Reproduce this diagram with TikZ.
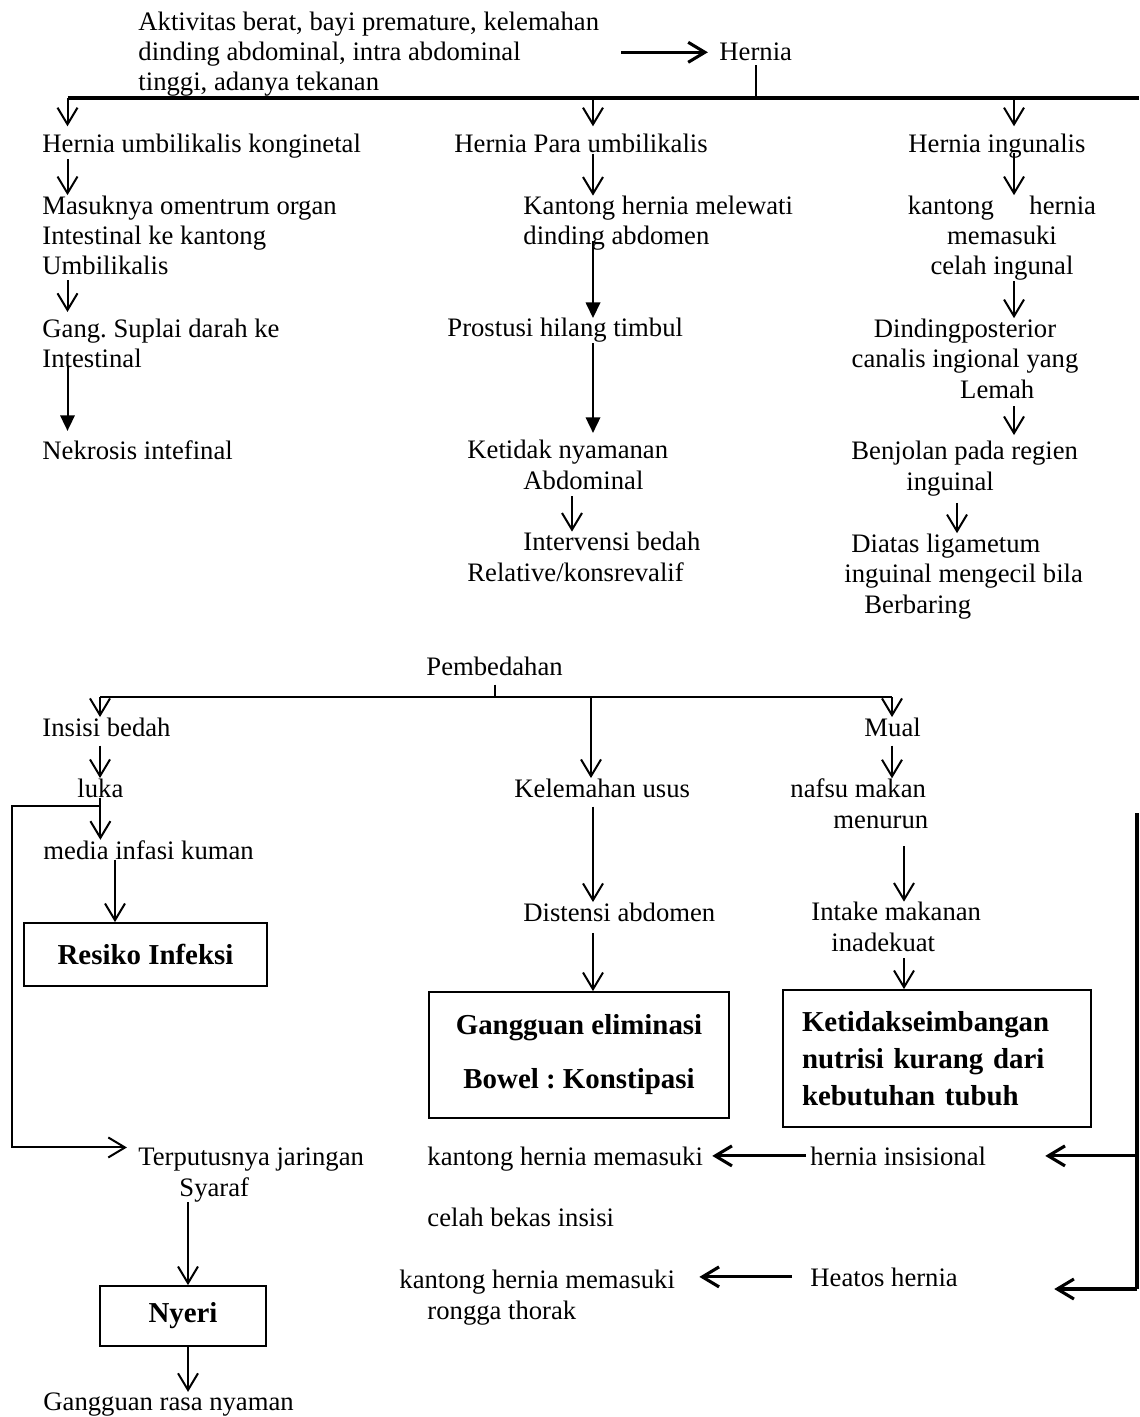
\documentclass[tikz,border=0pt]{standalone}
\usepackage{fontspec}
\setmainfont{Liberation Serif}
\usepackage{tikz}
\usetikzlibrary{arrows.meta,positioning,calc}
\frenchspacing
\tikzstyle{txt} = [inner sep=0pt, anchor=base west, align=left, font=\fontsize{12}{13.7}\selectfont]
\tikzstyle{txtc} = [txt, anchor=base, align=center]
\tikzstyle{diag} = [draw, line width=0.8pt, inner sep=0pt, align=center, font=\fontsize{13}{15}\selectfont\bfseries]
\tikzstyle{conn} = [line width=0.9pt]
\tikzstyle{arrow} = [conn, -{Straight Barb[length=7.5pt,width=9pt]}]
\tikzstyle{arrowfill} = [conn, -{Triangle[length=7pt,width=6.5pt]}]

\begin{document}
\begin{tikzpicture}[x=0.45pt, y=-0.45pt]
\fill[white] (0,0) rectangle (1139,1417);
\useasboundingbox (0,0) rectangle (1139,1417);

\coordinate (barL) at (67.5,98);
\coordinate (barR) at (1139,98);
\coordinate (barbL) at (100,697);
\coordinate (barbR) at (892,697);
\coordinate (rtop) at (1137,813);
\coordinate (rbot) at (1137,1289);
\coordinate (xb) at (593,0);
\coordinate (xc) at (1014,0);
\coordinate (xd) at (572,0);
\coordinate (xe) at (957,0);
\coordinate (xg) at (591,0);
\coordinate (xi) at (115,0);
\coordinate (xj) at (904,0);
\coordinate (xk) at (188,0);

\node[txt] (aktiv) at (138,91) {Aktivitas berat, bayi premature, kelemahan\\dinding abdominal, intra abdominal\\tinggi, adanya tekanan};
\node[txt] (hernia) at (719,61) {Hernia};
\node[txt] (huk) at (42,153) {Hernia umbilikalis konginetal};
\node[txt] (hpu) at (454,153) {Hernia Para umbilikalis};
\node[txt] (hing) at (908,153) {Hernia ingunalis};
\node[txt] (masuk) at (42,275) {Masuknya omentrum organ\\Intestinal ke kantong\\Umbilikalis};
\node[txt] (kantong) at (523,245) {Kantong hernia melewati\\dinding abdomen};
\node[txtc] (kantongi) at (1002,275) {kantong\hspace{16pt}hernia\\memasuki\\celah ingunal};
\node[txt] (gang) at (42,368) {Gang. Suplai darah ke\\Intestinal};
\node[txt] (prostusi) at (447,337) {Prostusi hilang timbul};
\node[txtc] (dinding) at (965,398) {Dindingposterior\\canalis ingional yang\\\hspace*{29pt}Lemah};
\node[txt] (nekrosis) at (42,459) {Nekrosis intefinal};
\node[txt] (ketnyaman) at (467,489) {Ketidak nyamanan\\\hspace*{25.2pt}Abdominal};
\node[txt] (benjolan) at (851,490) {Benjolan pada regien\\\hspace*{24.75pt}inguinal};
\node[txt] (intervensi) at (467,581) {\hspace*{25.2pt}Intervensi bedah\\Relative/konsrevalif};
\node[txt] (diatas) at (844,613) {\hspace*{3.15pt}Diatas ligametum\\inguinal mengecil bila\\\hspace*{9pt}Berbaring};
\node[txt] (pembedahan) at (426,675) {Pembedahan};
\node[txt] (insisi) at (42,736) {Insisi bedah};
\node[txt] (mual) at (864,736) {Mual};
\node[txt] (luka) at (77,797) {luka};
\node[txt] (kelemahan) at (514,797) {Kelemahan usus};
\node[txt] (nafsu) at (790,828) {nafsu makan\\\hspace*{19.35pt}menurun};
\node[txt] (media) at (43,859) {media infasi kuman};
\node[txt] (distensi) at (523,921) {Distensi abdomen};
\node[txt] (intake) at (811,951) {Intake makanan\\\hspace*{9pt}inadekuat};
\node[diag, minimum width=109.35pt, minimum height=28.35pt] (resiko) at (145.5,954.5) {Resiko Infeksi};
\node[diag, minimum width=135pt, minimum height=56.7pt, font=\fontsize{13}{24.3}\selectfont\bfseries] (elim) at (579,1055) {Gangguan eliminasi\\Bowel : Konstipasi};
\node[diag, minimum width=138.6pt, minimum height=61.65pt, text width=121.5pt, align=left, font=\fontsize{13}{16.65}\selectfont\bfseries] (nutrisi) at (937,1058.5) {Ketidakseimbangan\\nutrisi kurang dari\\kebutuhan tubuh};
\node[txt] (terput) at (138,1196) {Terputusnya jaringan\\\hspace*{18.45pt}Syaraf};
\node[txt] (kmasuk) at (427,1165) {kantong hernia memasuki};
\node[txt] (hinsisi) at (810,1165) {hernia insisional};
\node[txt] (celah) at (427,1226) {celah bekas insisi};
\node[txt] (kthorak) at (399,1319) {kantong hernia memasuki\\\hspace*{12.6pt}rongga thorak};
\node[txt] (heatos) at (810,1286) {Heatos hernia};
\node[diag, minimum width=74.7pt, minimum height=27pt] (nyeri) at (183,1316) {Nyeri};
\node[txt] (rasa) at (43,1410) {Gangguan rasa nyaman};

\draw[arrow, line width=1.4pt, shorten >=5pt] (aktiv.east |- hernia.west) ++(22,0) -- (hernia.west);
\draw[conn, shorten <=1.5pt] (hernia.south) -- (hernia.south |- barL);
\draw[conn, line width=1.4pt] (barL) -- (barR);
\draw[arrow, shorten >=3.5pt] (barL) -- (barL |- huk.north);
\draw[arrow, shorten >=3.5pt] (barL -| xb) -- (xb |- hpu.north);
\draw[arrow, shorten >=3.5pt] (barL -| xc) -- (xc |- hing.north);
\draw[arrow] (huk.south -| barL) -- (masuk.north -| barL);
\draw[arrow] (hpu.south -| xb) -- (kantong.north -| xb);
\draw[arrow, shorten <=-3pt] (hing.south -| xc) -- (kantongi.north -| xc);
\draw[arrow, shorten <=2pt, shorten >=3pt] (masuk.south -| barL) -- (gang.north -| barL);
\draw[arrowfill, shorten <=-4.5pt] (kantong.south -| xb) -- (prostusi.north -| xb);
\draw[arrow] (kantongi.south -| xc) -- (dinding.north -| xc);
\draw[arrowfill, shorten <=-1pt, shorten >=4pt] (gang.south -| barL) -- (nekrosis.north -| barL);
\draw[arrowfill, shorten >=3pt] (prostusi.south -| xb) -- (ketnyaman.north -| xb);
\draw[arrow, shorten <=3.5pt, shorten >=2.5pt] (dinding.south -| xc) -- (benjolan.north -| xc);
\draw[arrow, shorten <=3pt] (ketnyaman.south -| xd) -- (intervensi.north -| xd);
\draw[arrow, shorten <=3pt] (benjolan.south -| xe) -- (diatas.north -| xe);
\draw[conn, shorten <=4pt] (pembedahan.south) -- (pembedahan.south |- barbL);
\draw[conn] (barbL) -- (barbR);
\draw[arrow] (barbL) -- (barbL |- insisi.north);
\draw[arrow] (barbL -| xg) -- (xg |- kelemahan.north);
\draw[arrow] (barbR) -- (barbR |- mual.north);
\draw[arrow, shorten <=4pt] (insisi.south -| barbL) -- (luka.north -| barbL);
\draw[arrow, shorten <=4pt] (mual.south -| barbR) -- (nafsu.north -| barbR);
\draw[arrow] (luka.south) -- (luka.south |- media.north);
\draw[arrow, shorten >=5pt] ([yshift=-3.6pt]luka.south) -- ++(-88,0) |- (terput.north west);
\draw[arrow] (media.south -| xi) -- (resiko.north -| xi);
\draw[arrow, shorten <=4pt] (kelemahan.south -| xb) -- (distensi.north -| xb);
\draw[arrow, shorten <=8pt] (nafsu.south -| xj) -- (intake.north -| xj);
\draw[arrow, shorten <=5pt] (distensi.south -| xb) -- (elim.north -| xb);
\draw[arrow, shorten <=3pt] (intake.south -| xj) -- (nutrisi.north -| xj);
\draw[arrow] (terput.south -| xk) -- (nyeri.north -| xk);
\draw[arrow] (nyeri.south -| xk) -- (rasa.north -| xk);
\draw[arrow, line width=1.4pt, shorten <=1.8pt, shorten >=4pt] (hinsisi.west) -- (hinsisi.west -| kmasuk.east);
\draw[arrow, line width=1.4pt, shorten <=8pt, shorten >=10.8pt] (heatos.west) -- (heatos.west -| kthorak.east);
\draw[conn, line width=1.4pt] (rtop) -- (rbot);
\draw[arrow, line width=1.4pt, shorten >=26.5pt] (rtop |- hinsisi.east) -- (hinsisi.east);
\draw[arrow, line width=1.4pt, shorten >=43.2pt] (rbot) -- (rbot -| heatos.east);
\end{tikzpicture}
\end{document}
